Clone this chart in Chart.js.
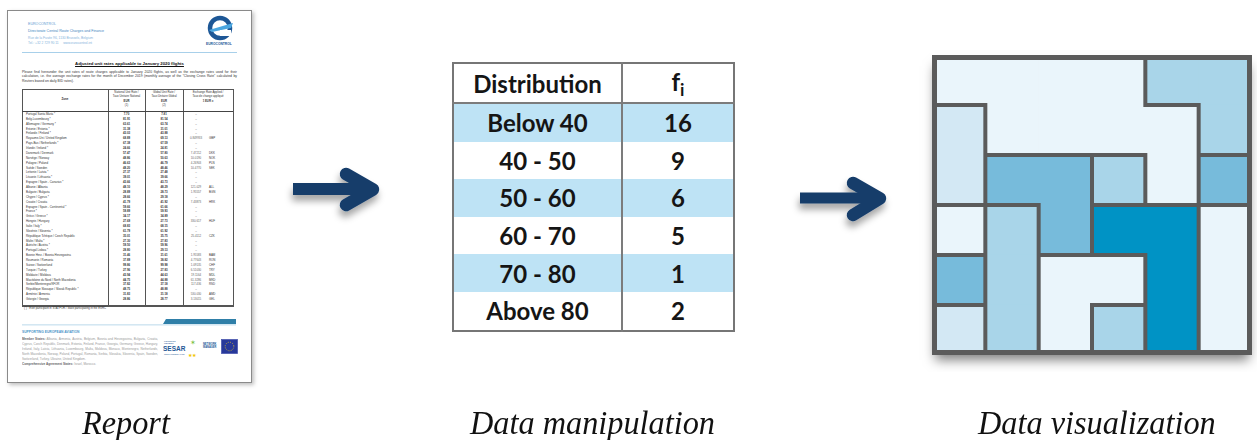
<!DOCTYPE html>
<html>
<head>
<meta charset="utf-8">
<script src="https://cdn.jsdelivr.net/npm/chart.js@4.4.1/dist/chart.umd.min.js"></script>
<style>
  html, body { margin: 0; padding: 0; background: #fff; }
  body { position: relative; width: 1257px; height: 440px; overflow: hidden; }
  .abs { position: absolute; }
  .doc { position: absolute; font-family: 'Liberation Sans', Arial, sans-serif; white-space: nowrap; line-height: 1; color: #333; }
  #page { left: 7px; top: 10px; width: 243px; height: 371px; border: 1px solid #8a8a8a; background: #fff;
          box-shadow: 2px 2px 4px rgba(0,0,0,0.25); }
  #freqTable { position: absolute; left: 452px; top: 62px; width: 281px; height: 267px; border-collapse: collapse;
               border: 2px solid #767676; table-layout: fixed; font-family: Lato, 'Noto Sans', sans-serif;
               font-weight: 700; font-size: 24px; color: #151515; text-align: center; }
  #freqTable td, #freqTable th { padding: 0; border-left: 2px solid #7c7c7c; }
  #freqTable th { height: 38px; border-bottom: 2px solid #7c7c7c; font-weight: 700; background: #fff; }
  #freqTable td { height: 37.6px; }
  #freqTable tr.blue td { background: #bee3f5; }
  #freqTable sub { font-size: 0.72em; vertical-align: -0.28em; }
  .caption { position: absolute; top: 406px; font-family: 'Liberation Serif', 'DejaVu Serif', serif; font-style: italic;
             font-size: 34px; line-height: 34px; color: #111; white-space: nowrap;
             transform: scaleX(0.95); transform-origin: 0 0; }
  #mosaicBox { position: absolute; left: 918px; top: 42px; width: 339px; height: 330px; }
</style>
</head>
<body>

<!-- report page -->
<div id="page" class="abs"></div>
<div class="doc" style="left:28px;top:23px;font-size:3.6px;color:#5c9bd1;">EUROCONTROL</div>
<div class="doc" style="left:28px;top:29.5px;font-size:3.6px;color:#3d7fc0;">Directorate Central Route Charges and Finance</div>
<div class="doc" style="left:28px;top:36.5px;font-size:3.3px;color:#86b3db;">Rue de la Fusée 96, 1130 Brussels, Belgium</div>
<div class="doc" style="left:28px;top:42px;font-size:3.3px;color:#86b3db;">Tel.: +32 2 729 90 11 &nbsp;&nbsp;&nbsp; www.eurocontrol.int</div>
<svg class="abs" style="left:204px;top:14px;" width="32" height="34" viewBox="0 0 32 34">
  <circle cx="16" cy="14" r="10" fill="none" stroke="#1d5796" stroke-width="4.5"/>
  <path d="M5 16 L29 9 L27 14 L8 18 Z" fill="#4aa6e0"/>
  <rect x="16" y="16" width="11" height="6" fill="#fff"/>
</svg>
<div class="doc" style="left:206px;top:43px;font-size:3.3px;font-weight:700;color:#1d5796;">EUROCONTROL</div>
<div class="abs" style="left:22px;top:52px;width:215px;height:1px;background:#a8d0ea;"></div>
<div class="doc" style="left:22px;top:62px;width:215px;text-align:center;font-size:4.3px;font-weight:700;text-decoration:underline;color:#111;">Adjusted unit rates applicable to January 2020 flights</div>
<div class="doc" style="left:22px;top:70px;width:215px;white-space:normal;text-align:justify;font-size:3.4px;line-height:4.3px;">Please find hereunder the unit rates of route charges applicable to January 2020 flights, as well as the exchange rates used for their calculation, i.e. the average exchange rates for the month of December 2019 (monthly average of the "Closing Cross Rate" calculated by Reuters based on daily BID rates).</div>
<div id="docTable"></div>
<div class="doc" style="left:24px;top:307px;font-size:2.8px;">(*) : Ever participant in STATFOR / State participating in the ESRC</div>
<svg class="abs" style="left:20px;top:318px;" width="220" height="9" viewBox="0 0 220 9">
  <polygon points="146,1 216,1 216,6 143,6" fill="#2f7fa8"/>
  <rect x="2" y="6.5" width="214" height="0.8" fill="#a9cfe6"/>
</svg>
<div class="doc" style="left:22px;top:331px;font-size:3.3px;font-weight:700;color:#4b94c8;">SUPPORTING EUROPEAN AVIATION</div>
<div class="doc" style="left:22px;top:337px;width:136px;white-space:normal;text-align:justify;font-size:3.1px;line-height:4.9px;color:#9a9a9a;overflow:hidden;"><b style="color:#666">Member States:</b> Albania, Armenia, Austria, Belgium, Bosnia and Herzegovina, Bulgaria, Croatia, Cyprus, Czech Republic, Denmark, Estonia, Finland, France, Georgia, Germany, Greece, Hungary, Ireland, Italy, Latvia, Lithuania, Luxembourg, Malta, Moldova, Monaco, Montenegro, Netherlands, North Macedonia, Norway, Poland, Portugal, Romania, Serbia, Slovakia, Slovenia, Spain, Sweden, Switzerland, Turkey, Ukraine, United Kingdom.<br><b style="color:#666">Comprehensive Agreement States:</b> Israel, Morocco.</div>
<div class="doc" style="left:164px;top:340px;font-size:2.2px;color:#1d5796;">FOUNDING<br>MEMBER</div>
<div class="doc" style="left:163px;top:346px;font-size:6.5px;font-weight:700;color:#1d5796;">SESAR</div>
<div class="doc" style="left:164px;top:353px;font-size:2px;color:#1d5796;">JOINT UNDERTAKING</div>
<svg class="abs" style="left:180px;top:337px;" width="20" height="22" viewBox="0 0 20 22">
  <text x="10" y="8" font-size="7" fill="#7ac143">✶</text>
  <text x="8" y="20" font-size="5" fill="#f2c500">★★</text>
</svg>
<div class="doc" style="left:203px;top:343px;font-size:2.6px;font-weight:700;color:#1d5796;line-height:3.4px;">NETWORK<br>MANAGER</div>
<svg class="abs" style="left:221px;top:339px;" width="17" height="15" viewBox="0 0 17 15">
  <rect x="0.5" y="0.5" width="16" height="14" fill="#27389a" stroke="#4d5ab0" stroke-width="0.8"/>
  <circle cx="8.5" cy="7.5" r="4.3" fill="none" stroke="#f3d21c" stroke-width="0.9" stroke-dasharray="0.8 1.45"/>
</svg>

<!-- frequency table -->
<table id="freqTable"></table>

<!-- mosaic -->
<div id="mosaicBox"><canvas id="mosaic"></canvas></div>

<!-- arrows -->
<svg class="abs" style="left:0;top:0;pointer-events:none;" width="1257" height="440">
  <defs>
    <filter id="sh" x="-30%" y="-50%" width="160%" height="220%">
      <feDropShadow dx="-1" dy="6" stdDeviation="3.5" flood-color="#000" flood-opacity="0.35"/>
    </filter>
  </defs>
  <g filter="url(#sh)" stroke="#173d6b" fill="none">
    <line x1="293" y1="189" x2="371" y2="189" stroke-width="12"/>
    <polyline points="346,174 373,189.5 346,205" stroke-width="12.5" stroke-linecap="round" stroke-linejoin="round"/>
    <line x1="800" y1="198" x2="879" y2="198" stroke-width="11"/>
    <polyline points="853,183 880,198.5 853,215" stroke-width="12.5" stroke-linecap="round" stroke-linejoin="round"/>
  </g>
</svg>

<div class="caption" style="left:82px;">Report</div>
<div class="caption" style="left:470px;">Data manipulation</div>
<div class="caption" style="left:978px;">Data visualization</div>

<script>
// table values
const distCategories = ['Below 40', '40 - 50', '50 - 60', '60 - 70', '70 - 80', 'Above 80'];
const distFreq = [16, 9, 6, 5, 1, 2];

// mosaic: shade level per cell (0 = lightest .. 4 = darkest), rows top to bottom
const mosaicCols = ['1', '2', '3', '4', '5', '6'];
const shadeRow1 = [0, 0, 0, 0, 2, 2];
const shadeRow2 = [1, 0, 0, 0, 0, 2];
const shadeRow3 = [1, 3, 3, 2, 0, 3];
const shadeRow4 = [0, 2, 3, 4, 4, 0];
const shadeRow5 = [3, 2, 0, 0, 4, 0];
const shadeRow6 = [1, 2, 0, 2, 4, 0];
// which block each cell belongs to (borders drawn between different blocks)
const blockRow1 = [0, 0, 0, 0, 1, 1];
const blockRow2 = [2, 0, 0, 0, 0, 1];
const blockRow3 = [2, 3, 3, 4, 0, 5];
const blockRow4 = [6, 7, 3, 8, 8, 9];
const blockRow5 = [10, 7, 11, 11, 8, 9];
const blockRow6 = [12, 7, 11, 13, 8, 9];

// report page table rows
const docRows = [
  ['Portugal Santa Maria *', '7.70', '7.81', '–', ''],
  ['Belg-Luxembourg *', '81.91', '81.54', '–', ''],
  ['Allemagne / Germany *', '63.61', '63.74', '–', ''],
  ['Estonie / Estonia *', '31.38', '31.01', '–', ''],
  ['Finlande / Finland *', '43.03', '43.88', '–', ''],
  ['Royaume-Uni / United Kingdom', '68.89', '69.13', '0.849933', 'GBP'],
  ['Pays-Bas / Netherlands *', '67.38', '67.59', '–', ''],
  ['Irlande / Ireland *', '24.66', '24.81', '–', ''],
  ['Danemark / Denmark', '57.47', '57.80', '7.47212', 'DKK'],
  ['Norvège / Norway', '48.86', '50.63', '10.0190', 'NOK'],
  ['Pologne / Poland', '46.63', '46.79', '4.26903', 'PLN'],
  ['Suède / Sweden', '48.20', '48.46', '10.4770', 'SEK'],
  ['Lettonie / Latvia *', '27.37', '27.48', '–', ''],
  ['Lituanie / Lithuania *', '39.01', '39.66', '–', ''],
  ['Espagne / Spain - Canarias *', '43.66', '43.73', '–', ''],
  ['Albanie / Albania', '48.10', '48.29', '121.029', 'ALL'],
  ['Bulgarie / Bulgaria', '28.89', '28.73', '1.95557', 'BGN'],
  ['Chypre / Cyprus *', '28.66', '29.18', '–', ''],
  ['Croatie / Croatia', '41.79', '41.92', '7.43873', 'HRK'],
  ['Espagne / Spain - Continental *', '59.66', '61.66', '–', ''],
  ['France *', '59.89', '59.93', '–', ''],
  ['Grèce / Greece *', '34.17', '34.89', '–', ''],
  ['Hongrie / Hungary', '27.69', '27.73', '330.617', 'HUF'],
  ['Italie / Italy *', '68.83', '68.15', '–', ''],
  ['Slovénie / Slovenia *', '61.79', '61.92', '–', ''],
  ['République Tchèque / Czech Republic', '35.01', '35.75', '25.4112', 'CZK'],
  ['Malte / Malta *', '27.30', '27.83', '–', ''],
  ['Autriche / Austria *', '59.50', '59.96', '–', ''],
  ['Portugal Lisboa *', '28.80', '29.13', '–', ''],
  ['Bosnie Herz. / Bosnia Herzegovina', '31.46', '31.61', '1.95583', 'BAM'],
  ['Roumanie / Romania', '37.89', '38.82', '4.77643', 'RON'],
  ['Suisse / Switzerland', '99.86', '99.98', '1.09135', 'CHF'],
  ['Turquie / Turkey', '27.96', '27.83', '6.51030', 'TRY'],
  ['Moldavie / Moldova', '43.94', '44.63', '19.1164', 'MDL'],
  ['Macédoine du Nord / North Macedonia', '44.75', '44.88', '61.3286', 'MKD'],
  ['Serbie/Montenegro/KFOR', '37.82', '37.18', '117.436', 'RSD'],
  ['République Slovaque / Slovak Republic *', '48.75', '48.88', '–', ''],
  ['Arménie / Armenia', '31.83', '31.18', '530.030', 'AMD'],
  ['Géorgie / Georgia', '28.86', '28.77', '3.13015', 'GEL']
];

const shadeColors = ['#eaf5fb', '#d3e8f4', '#a9d5e9', '#77bbdb', '#0093c5'];

function buildDocTable() {
  const box = document.getElementById('docTable');
  let html = '';
  html += '<div class="abs" style="left:22px;top:89px;width:210px;height:215px;border:1px solid #555;border-bottom:2px double #555;"></div>';
  [108, 145, 183].forEach((x) => {
    html += `<div class="abs" style="left:${x}px;top:89px;width:1px;height:217px;background:#555;"></div>`;
  });
  html += '<div class="abs" style="left:22px;top:111px;width:211px;height:1px;background:#444;"></div>';
  const hdr = (cx, lines) => lines.forEach((t, i) => {
    html += `<div class="doc" style="left:${cx - 20}px;width:40px;text-align:center;top:${91 + i * 4.4}px;font-size:2.8px;font-weight:${i === 2 ? 700 : 400};">${t}</div>`;
  });
  html += '<div class="doc" style="left:45px;width:40px;text-align:center;top:98px;font-size:2.9px;font-weight:700;">Zone</div>';
  hdr(126.5, ['National Unit Rate /', 'Taux Unitaire National', 'EUR', '(1)']);
  hdr(164, ['Global Unit Rate /', 'Taux Unitaire Global', 'EUR', '(2)']);
  hdr(208, ['Exchange Rate Applied /', 'Taux de change appliqué', '1 EUR =']);
  docRows.forEach((r, i) => {
    const top = 113 + i * 4.87;
    html += `<div class="doc" style="left:26px;top:${top}px;font-size:2.9px;">${r[0]}</div>`;
    html += `<div class="doc" style="left:111px;width:31px;text-align:center;top:${top}px;font-size:2.9px;font-weight:700;">${r[1]}</div>`;
    html += `<div class="doc" style="left:148px;width:32px;text-align:center;top:${top}px;font-size:2.9px;font-weight:700;">${r[2]}</div>`;
    html += `<div class="doc" style="left:185px;width:22px;text-align:center;top:${top}px;font-size:2.9px;color:#666;">${r[3]}</div>`;
    html += `<div class="doc" style="left:209px;top:${top}px;font-size:2.9px;">${r[4]}</div>`;
  });
  box.innerHTML = html;
}

function buildFreqTable() {
  const table = document.getElementById('freqTable');
  let html = '<colgroup><col style="width:169px"><col style="width:112px"></colgroup>';
  html += '<tr><th style="border-left:none">Distribution</th><th>f<sub>i</sub></th></tr>';
  distCategories.forEach((cat, i) => {
    html += `<tr class="${i % 2 === 0 ? 'blue' : ''}"><td style="border-left:none">${cat}</td><td>${distFreq[i]}</td></tr>`;
  });
  table.innerHTML = html;
}

const shadeRows = [shadeRow1, shadeRow2, shadeRow3, shadeRow4, shadeRow5, shadeRow6];
const blockRows = [blockRow1, blockRow2, blockRow3, blockRow4, blockRow5, blockRow6];

const mosaicFrame = {
  id: 'mosaicFrame',
  beforeDatasetsDraw(chart) {
    const { ctx, chartArea: a } = chart;
    ctx.save();
    ctx.shadowColor = 'rgba(0,0,0,0.5)';
    ctx.shadowBlur = 11;
    ctx.shadowOffsetY = 8;
    ctx.fillStyle = '#5b5b5b';
    ctx.fillRect(a.left + 3, a.top + 3, a.width - 6, a.height - 6);
    ctx.restore();
  },
  afterDatasetsDraw(chart) {
    const { ctx, chartArea: a, scales: { x, y } } = chart;
    const n = mosaicCols.length;
    const xb = (i) => (i === 0 ? a.left : i === n ? a.right : (x.getPixelForValue(i - 1) + x.getPixelForValue(i)) / 2);
    const yb = (r) => y.getPixelForValue(n - r);
    ctx.save();
    ctx.beginPath();
    ctx.rect(a.left, a.top, a.width, a.height);
    ctx.clip();
    ctx.strokeStyle = '#5b5b5b';
    ctx.lineWidth = 4;
    ctx.lineCap = 'square';
    ctx.beginPath();
    for (let r = 0; r < n; r++) {
      for (let c = 0; c < n; c++) {
        if (c < n - 1 && blockRows[r][c] !== blockRows[r][c + 1]) {
          ctx.moveTo(xb(c + 1), yb(r));
          ctx.lineTo(xb(c + 1), yb(r + 1));
        }
        if (r < n - 1 && blockRows[r][c] !== blockRows[r + 1][c]) {
          ctx.moveTo(xb(c), yb(r + 1));
          ctx.lineTo(xb(c + 1), yb(r + 1));
        }
      }
    }
    ctx.stroke();
    ctx.lineWidth = 5;
    ctx.lineCap = 'butt';
    ctx.strokeRect(a.left + 2.5, a.top + 2.5, a.width - 5, a.height - 5);
    ctx.restore();
  },
};

function buildMosaic() {
  const ctx = document.getElementById('mosaic').getContext('2d');
  new Chart(ctx, {
    type: 'bar',
    data: {
      labels: mosaicCols,
      // stacked bars build from the bottom, so the last row goes first
      datasets: shadeRows.slice().reverse().map((row, i) => ({
        label: 'row ' + (shadeRows.length - i),
        data: row.map(() => 1),
        backgroundColor: row.map((s) => shadeColors[s]),
        borderWidth: 0,
        barPercentage: 1,
        categoryPercentage: 1,
      })),
    },
    options: {
      responsive: true,
      maintainAspectRatio: false,
      animation: false,
      events: [],
      layout: { padding: { left: 14, top: 13, right: 5, bottom: 17 } },
      plugins: { legend: { display: false }, tooltip: { enabled: false } },
      scales: {
        x: { stacked: true, display: false },
        y: { stacked: true, display: false, min: 0, max: 6 },
      },
    },
    plugins: [mosaicFrame],
  });
}

buildDocTable();
buildFreqTable();
buildMosaic();
</script>
</body>
</html>
